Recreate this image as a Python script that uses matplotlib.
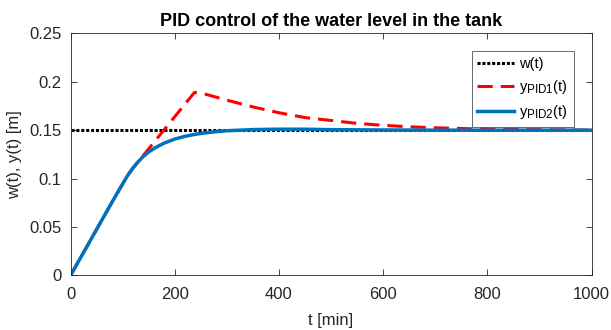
import matplotlib
matplotlib.use("Agg")
import matplotlib.pyplot as plt
try:
    import matplotlib._mathtext as _mt
    _mt.SHRINK_FACTOR = 0.8
except Exception:
    pass

plt.rcParams['font.family'] = ['Liberation Sans', 'DejaVu Sans']
plt.rcParams['mathtext.fontset'] = 'custom'
plt.rcParams['mathtext.rm'] = 'Liberation Sans'
plt.rcParams['mathtext.it'] = 'Liberation Sans'

t_w = [0, 1000]
w = [0.15, 0.15]

t_pid1 = [0, 20, 40, 60, 80, 100, 110, 120, 130, 238, 260, 300, 350, 400, 450, 500, 550, 600, 650, 700, 800, 900, 1000]
y_pid1 = [0, 0.019, 0.038, 0.057, 0.076, 0.0945, 0.1035, 0.111, 0.1175, 0.189, 0.187, 0.181, 0.174, 0.168, 0.163, 0.160, 0.157, 0.155, 0.1535, 0.1525, 0.151, 0.1505, 0.150]

t_pid2 = [0, 20, 40, 60, 80, 100, 110, 120, 130, 140, 150, 160, 170, 180, 200, 220, 240, 260, 280, 300, 350, 400, 450, 500, 600, 700, 800, 1000]
y_pid2 = [0, 0.019, 0.038, 0.057, 0.076, 0.0945, 0.1035, 0.111, 0.1175, 0.123, 0.1275, 0.131, 0.134, 0.1367, 0.1408, 0.1437, 0.1458, 0.1473, 0.1485, 0.1494, 0.1506, 0.151, 0.151, 0.1505, 0.1502, 0.150, 0.150, 0.150]

fig = plt.figure(figsize=(6.11, 3.30), dpi=100)
ax = fig.add_axes([0.1154, 0.1652, 0.8527, 0.7339])

ax.plot(t_w, w, color='black', linestyle=(0, (1, 0.6)), linewidth=2.2, label='w(t)')
ax.plot(t_pid1, y_pid1, color='#FF0000', linestyle=(0, (5, 2.6)), linewidth=2.2, label=r'y$_{\mathrm{PID1}}$(t)')
ax.plot(t_pid2, y_pid2, color='#0072BD', linestyle='-', linewidth=2.5, label=r'y$_{\mathrm{PID2}}$(t)')

ax.set_xlim(0, 1000)
ax.set_ylim(0, 0.25)
ax.set_xticks([0, 200, 400, 600, 800, 1000])
ax.set_yticks([0, 0.05, 0.1, 0.15, 0.2, 0.25])
ax.set_yticklabels(['0', '0.05', '0.1', '0.15', '0.2', '0.25'])
ax.tick_params(direction='in', top=True, right=True, labelsize=12, length=4, width=0.6, colors='#262626', labelcolor='#262626')
ax.tick_params(axis='x', pad=8)
ax.tick_params(axis='y', pad=6.3)
for s in ax.spines.values():
    s.set_linewidth(0.6)
    s.set_color('#262626')

ax.set_xlabel('t [min]', fontsize=12, color='#262626', labelpad=8)
ax.set_ylabel('w(t), y(t) [m]', fontsize=12, color='#262626', labelpad=5)
ax.set_title('PID control of the water level in the tank', fontsize=13, fontweight='bold', pad=5)

leg = ax.legend(loc='upper right', bbox_to_anchor=(0.9664, 0.927), fontsize=10.5, frameon=True, fancybox=False,
                edgecolor='#262626', handlelength=2.53, borderaxespad=0.0, labelspacing=0.48, handletextpad=0.35, borderpad=0.4)
leg.get_frame().set_linewidth(0.6)

fig.savefig('out.png', dpi=100)
